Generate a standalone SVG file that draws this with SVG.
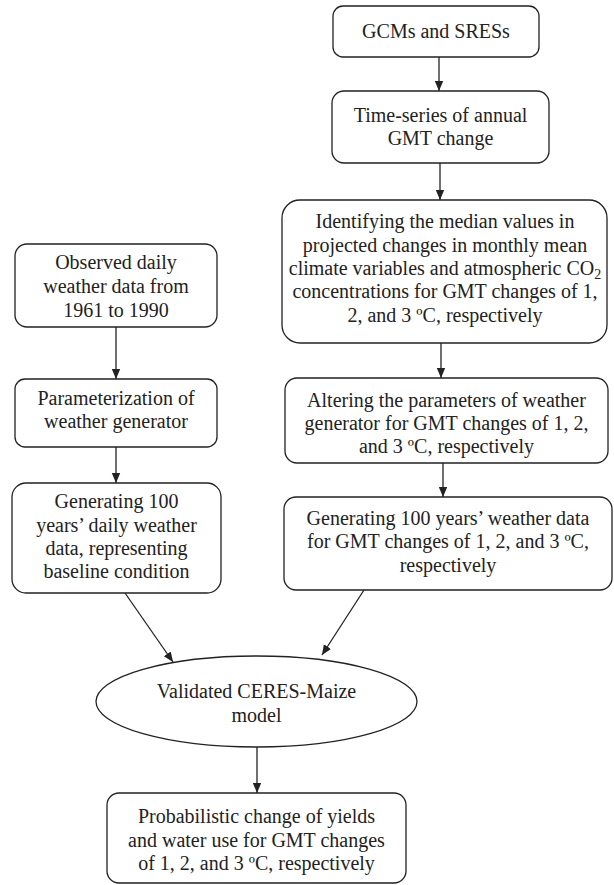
<svg xmlns="http://www.w3.org/2000/svg" width="614" height="885" viewBox="0 0 614 885">
<style>
.box{fill:#fff;stroke:#222;stroke-width:1.3}
.t{font-family:"Liberation Serif","Times New Roman",serif;font-size:20px;fill:#222;text-anchor:middle}
.c{stroke:#222;stroke-width:1.3;fill:none}
</style>
<defs>
<marker id="ah" viewBox="0 0 10 10" refX="10" refY="5" markerWidth="10" markerHeight="10" markerUnits="userSpaceOnUse" orient="auto">
<path d="M0,0.8 L10,5 L0,9.2 Z" fill="#222"/>
</marker>
</defs>
<rect width="614" height="885" fill="#fff"/>
<g id="n_gcms">
<rect class="box" x="333" y="6" width="206" height="51" rx="10"/>
<text class="t" x="436" y="38">GCMs and SRESs</text>
</g>
<g id="n_timeseries">
<rect class="box" x="332" y="91" width="217" height="72" rx="12"/>
<text class="t" x="440.5" y="122">Time-series of annual</text>
<text class="t" x="440.5" y="145">GMT change</text>
</g>
<g id="n_median">
<rect class="box" x="282" y="200" width="325" height="143" rx="18"/>
<text class="t" x="445" y="228">Identifying the median values in</text>
<text class="t" x="445" y="252">projected changes in monthly mean</text>
<text class="t" x="445" y="275">climate variables and atmospheric CO<tspan font-size="14" dy="4">2</tspan></text>
<text class="t" x="445" y="298">concentrations for GMT changes of 1,</text>
<text class="t" x="445" y="322">2, and 3 ºC, respectively</text>
</g>
<g id="n_altering">
<rect class="box" x="285" y="378" width="323" height="85" rx="12"/>
<text class="t" x="446.5" y="407">Altering the parameters of weather</text>
<text class="t" x="446.5" y="430">generator for GMT changes of 1, 2,</text>
<text class="t" x="446.5" y="453">and 3 ºC, respectively</text>
</g>
<g id="n_gen100gmt">
<rect class="box" x="284" y="497" width="328" height="93" rx="12"/>
<text class="t" x="448" y="525">Generating 100 years’ weather data</text>
<text class="t" x="448" y="548">for GMT changes of 1, 2, and 3 ºC,</text>
<text class="t" x="448" y="572">respectively</text>
</g>
<g id="n_observed">
<rect class="box" x="15" y="244" width="202" height="83" rx="12"/>
<text class="t" x="116" y="269">Observed daily</text>
<text class="t" x="116" y="293">weather data from</text>
<text class="t" x="116" y="317">1961 to 1990</text>
</g>
<g id="n_param">
<rect class="box" x="15" y="379" width="202" height="68" rx="10"/>
<text class="t" x="116" y="405">Parameterization of</text>
<text class="t" x="116" y="428">weather generator</text>
</g>
<g id="n_gen100base">
<rect class="box" x="12" y="483" width="209" height="110" rx="14"/>
<text class="t" x="116.5" y="508">Generating 100</text>
<text class="t" x="116.5" y="532">years’ daily weather</text>
<text class="t" x="116.5" y="555">data, representing</text>
<text class="t" x="116.5" y="578">baseline condition</text>
</g>
<g id="n_ceres">
<ellipse class="box" cx="256.5" cy="701.5" rx="160.5" ry="45.5"/>
<text class="t" x="256.5" y="698">Validated CERES-Maize</text>
<text class="t" x="256.5" y="722">model</text>
</g>
<g id="n_result">
<rect class="box" x="107" y="793" width="299" height="90" rx="12"/>
<text class="t" x="256.5" y="823">Probabilistic change of yields</text>
<text class="t" x="256.5" y="847">and water use for GMT changes</text>
<text class="t" x="256.5" y="870">of 1, 2, and 3 ºC, respectively</text>
</g>
<g id="connectors">
<line class="c" x1="439" y1="57" x2="439" y2="91" marker-end="url(#ah)"/>
<line class="c" x1="440" y1="163" x2="440" y2="200" marker-end="url(#ah)"/>
<line class="c" x1="441" y1="343" x2="441" y2="378" marker-end="url(#ah)"/>
<line class="c" x1="443" y1="463" x2="443" y2="497" marker-end="url(#ah)"/>
<line class="c" x1="116" y1="327" x2="116" y2="379" marker-end="url(#ah)"/>
<line class="c" x1="116" y1="447" x2="116" y2="483" marker-end="url(#ah)"/>
<line class="c" x1="125" y1="593" x2="173" y2="662" marker-end="url(#ah)"/>
<line class="c" x1="364" y1="590" x2="322" y2="655" marker-end="url(#ah)"/>
<line class="c" x1="257" y1="747" x2="257" y2="793" marker-end="url(#ah)"/>
</g>
</svg>
